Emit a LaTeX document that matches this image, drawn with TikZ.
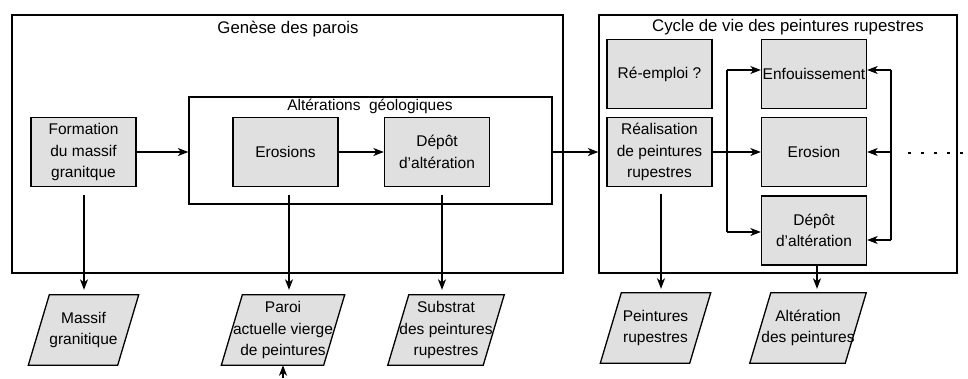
\documentclass[tikz,border=0pt]{standalone}
\usepackage{fontspec}
\setmainfont{Liberation Sans}
\usetikzlibrary{arrows.meta,backgrounds}
\definecolor{boxgray}{HTML}{E0E0E0}
\tikzset{
  every picture/.style={x=1pt,y=-1pt},
  lw/.style={line width=1.3pt},
  txt/.style={font=\fontsize{15.5}{21.5}\selectfont, align=center, inner sep=1pt},
  titletxt/.style={txt, font=\fontsize{16.8}{21.5}\selectfont},
  procbox/.style={txt, draw, lw, fill=boxgray, minimum width=105pt, minimum height=69pt},
  databox/.style={txt, minimum width=89pt, minimum height=70pt},
  frame/.style={draw, lw, inner sep=0pt},
  arr/.style={lw, -{Stealth[length=10.5pt,width=8pt,inset=3pt]}},
  conn/.style={lw},
}
\newcommand\paral[1]{%
  \begin{pgfonlayer}{background}
  \draw[lw, fill=boxgray] ([xshift=-10.5pt]#1.south west) -- ([xshift=10.5pt]#1.north west) -- ([xshift=10.5pt]#1.north east) -- ([xshift=-10.5pt]#1.south east) -- cycle;
  \end{pgfonlayer}}
\begin{document}
\begin{tikzpicture}
\useasboundingbox (0,0) rectangle (968,378);
% frames
\node[frame, minimum width=551pt, minimum height=258pt] (G) at (287.5,144) {};
\node[titletxt] (Gt) at (288,29) {Genèse des parois};
\node[frame, minimum width=363pt, minimum height=107pt] (A) at (370.5,150.5) {};
\node[txt] (At) at (370,106) {Altérations\ \ géologiques};
\node[frame, minimum width=358pt, minimum height=258pt] (C) at (778,144) {};
\node[titletxt] (Ct) at (788,27) {Cycle de vie des peintures rupestres};
% process boxes
\node[procbox] (form) at (83.5,152) {Formation\\du massif\\granitque};
\node[procbox] (eros) at (285.5,152) {Erosions};
\node[procbox] (dep1) at (437,152) {Dépôt\\d'altération};
\node[procbox] (reemp) at (659.5,74) {Ré-emploi ?};
\node[procbox] (real) at (659.5,152) {Réalisation\\de peintures\\rupestres};
\node[procbox] (enf) at (814,74) {Enfouissement};
\node[procbox] (ero2) at (814,152) {Erosion};
\node[procbox] (dep2) at (814,230.5) {Dépôt\\d'altération};
% data (parallelograms)
\node[databox] (mg) at (83.5,330) {Massif\\granitique};
\node[databox] (paroi) at (283,330) {Paroi\\actuelle vierge\\de peintures};
\node[databox] (subs) at (446,330) {Substrat\\des peintures\\rupestres};
\node[databox] (peint) at (655.5,328) {Peintures\\rupestres};
\node[databox] (alt) at (808,328) {Altération\\des peintures};
\paral{mg}\paral{paroi}\paral{subs}\paral{peint}\paral{alt}
% connectors
\draw[arr] (form.east) -- (form.east -| A.west);
\draw[arr] (eros.east) -- (dep1.west);
\draw[arr] (dep1.east -| A.east) -- (dep1.east -| C.west);
\coordinate (f1) at ([xshift=0.5pt,yshift=-8pt]form.south);
\coordinate (e1) at ([xshift=3.5pt,yshift=-8pt]eros.south);
\coordinate (d1) at ([xshift=5pt,yshift=-8pt]dep1.south);
\coordinate (r1) at ([xshift=1.5pt,yshift=-7pt]real.south);
\coordinate (d2) at ([xshift=3pt]dep2.south);
\coordinate (mgt) at ([yshift=5pt]mg.north);
\coordinate (pat) at ([yshift=5pt]paroi.north);
\coordinate (sut) at ([yshift=5pt]subs.north);
\coordinate (pet) at ([yshift=4pt]peint.north);
\coordinate (alt1) at ([yshift=4pt]alt.north);
\draw[arr] (f1) -- (f1 |- mgt);
\draw[arr] (e1) -- (e1 |- pat);
\draw[arr] (d1) -- (d1 |- sut);
\draw[arr] (r1) -- (r1 |- pet);
\draw[arr] (d2) -- (d2 |- alt1);
\draw[arr] (real.east) -- (ero2.west);
\coordinate (bl) at (727,70);
\coordinate (bb) at (727,232);
\draw[conn] (bl) -- (bb);
\draw[arr] (bl) -- (bl -| enf.west);
\draw[arr] (bb) -- (bb -| dep2.west);
\coordinate (rt) at (891,70);
\coordinate (rb) at (891,240);
\draw[conn] (rt) -- (rb);
\draw[arr] (rt) -- (rt -| enf.east);
\draw[arr] (rt |- ero2.east) -- (ero2.east);
\draw[arr] (rb) -- (rb -| dep2.east);
\coordinate (dotend) at (968,153);
\coordinate (dotstart) at (905,153);
\draw[lw, dash pattern=on 3pt off 10pt, dash phase=8pt] (dotend) -- (dotstart);
\coordinate (below) at (283,378);
\draw[arr] (below) -- (paroi.south);
\end{tikzpicture}
\end{document}
